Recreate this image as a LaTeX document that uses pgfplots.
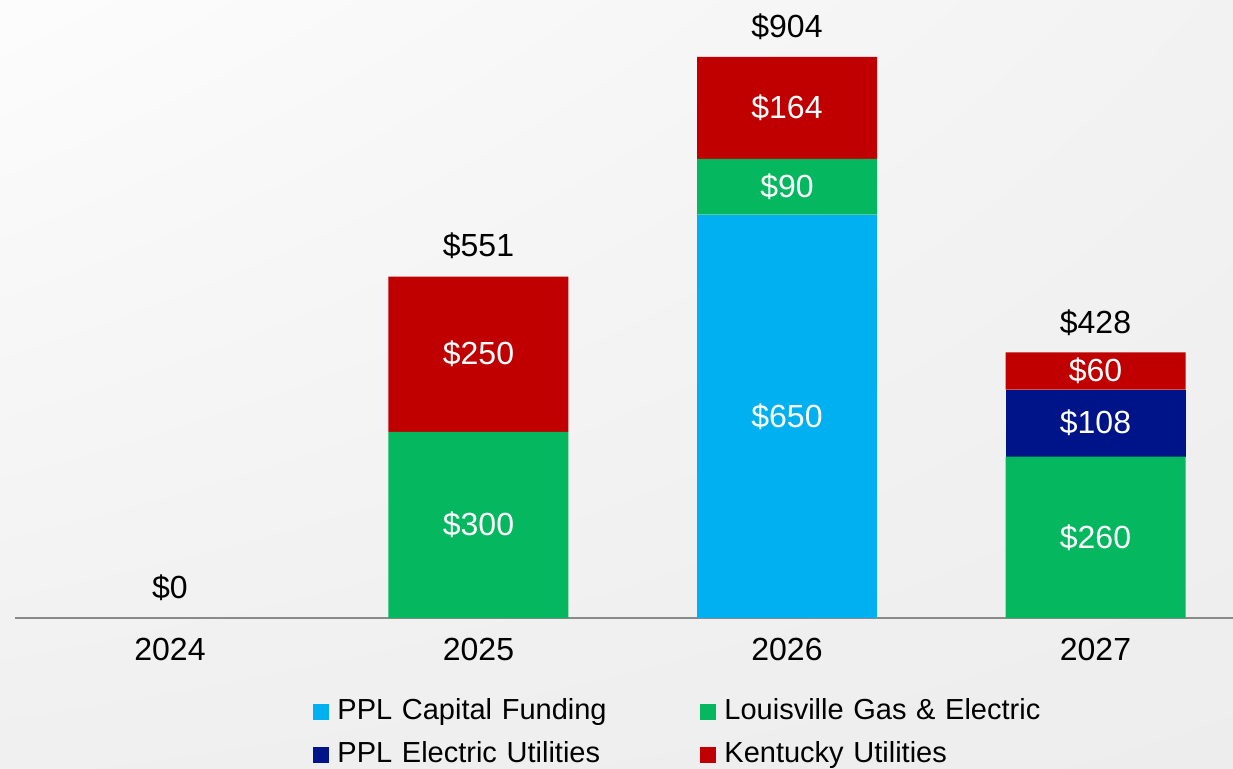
\documentclass[border=0pt]{standalone}
\usepackage{pgfplots}
\pgfplotsset{compat=1.18}
\usepackage{pgfplotstable}
\usetikzlibrary{shadings}
\usepackage{fontspec}
\setmainfont{Liberation Sans}
\definecolor{cfblue}{HTML}{00B0F0}
\definecolor{lgegreen}{HTML}{05B75F}
\definecolor{eunavy}{HTML}{00148A}
\definecolor{kured}{HTML}{C00000}
\definecolor{axgray}{HTML}{8A8A8A}

\pgfplotstableread{
x cf lge eu ku total
0 0 0 0 0 0
1 0 300 0 250 551
2 650 90 0 164 904
3 0 260 108 60 428
}\data

\begin{document}
\begin{tikzpicture}
\path[use as bounding box] (0pt,0pt) rectangle (616.5pt,384pt);
\shade[upper left=black!1, upper right=black!5, lower left=black!6, lower right=black!7] (0pt,0pt) rectangle (616.5pt,384pt);
\clip (0pt,0pt) rectangle (616.5pt,384pt);
\begin{axis}[
  at={(7.5pt,75pt)}, anchor=south west,
  scale only axis, width=609pt, height=309pt,
  xmin=-0.5024, xmax=3.4457, ymin=0, ymax=995.8,
  ybar stacked, bar width=90pt,
  axis y line=none,
  axis x line*=bottom,
  x axis line style={-, axgray, line width=1pt},
  xtick={0,1,2,3},
  xticklabels={2024,2025,2026,2027},
  xtick style={draw=none},
  xticklabel style={anchor=center, yshift=-15.5pt, font=\fontsize{16}{19}\selectfont},
  legend columns=2,
  legend cell align=left,
  legend style={
    at={(axis description cs:0.2447,-0.1286)}, anchor=north west,
    draw=none, fill=none, inner sep=0pt, row sep=7.5pt,
    font=\fontsize{14.5}{17}\selectfont,
    nodes={inner sep=0pt, text width=181.5pt, align=left, text height=11pt, text depth=3pt},
    /tikz/every odd column/.append style={column sep=4pt},
    /tikz/every even column/.append style={column sep=0pt},
  },
  legend image code/.code={\fill[#1] (0pt,-4pt) rectangle (8pt,4pt);},
]
\addplot[fill=cfblue, draw=none] table[x=x, y=cf] {\data};
\addplot[fill=lgegreen, draw=none] table[x=x, y=lge] {\data};
\addplot[fill=eunavy, draw=none] table[x=x, y=eu] {\data};
\addplot[fill=kured, draw=none] table[x=x, y=ku] {\data};
\legend{PPL Capital Funding, Louisville Gas \& Electric, PPL Electric Utilities, Kentucky Utilities}
\coordinate (a1) at (axis cs:1,150);
\coordinate (a2) at (axis cs:1,425);
\coordinate (a3) at (axis cs:2,325);
\coordinate (a4) at (axis cs:2,695);
\coordinate (a5) at (axis cs:2,822);
\coordinate (a6) at (axis cs:3,130);
\coordinate (a7) at (axis cs:3,314);
\coordinate (a8) at (axis cs:3,398);
\coordinate (t0) at (axis cs:0,0);
\coordinate (t1) at (axis cs:1,551);
\coordinate (t2) at (axis cs:2,904);
\coordinate (t3) at (axis cs:3,428);
\end{axis}
\begin{scope}[every node/.append style={font=\fontsize{16}{19}\selectfont}]
\node[text=white] at (a1) {\textdollar300};
\node[text=white] at (a2) {\textdollar250};
\node[text=white] at (a3) {\textdollar650};
\node[text=white] at (a4) {\textdollar90};
\node[text=white] at (a5) {\textdollar164};
\node[text=white] at (a6) {\textdollar260};
\node[text=white] at (a7) {\textdollar108};
\node[text=white] at (a8) {\textdollar60};
\node[text=black, yshift=15pt] at (t0) {\textdollar0};
\node[text=black, yshift=15pt] at (t1) {\textdollar551};
\node[text=black, yshift=15pt] at (t2) {\textdollar904};
\node[text=black, yshift=15pt] at (t3) {\textdollar428};
\end{scope}
\end{tikzpicture}
\end{document}
